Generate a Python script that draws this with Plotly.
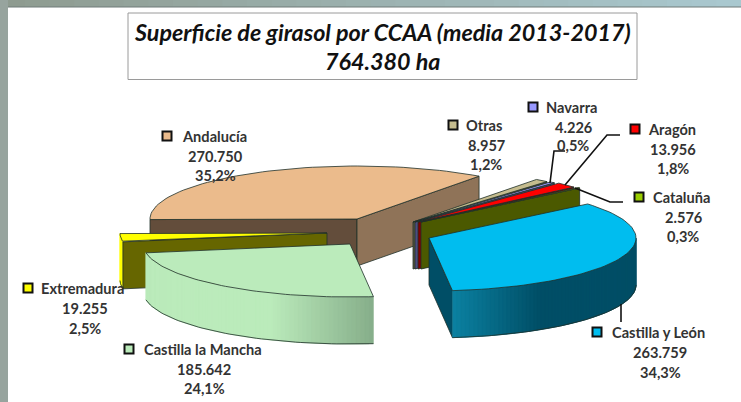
import math
import plotly.graph_objects as go

# ---- data ----
regiones = ["Andalucía", "Otras", "Navarra", "Aragón", "Cataluña",
            "Castilla y León", "Castilla la Mancha", "Extremadura"]
valores = [270750, 8957, 4226, 13956, 2576, 263759, 185642, 19255]
porcentajes = ["35,2%", "1,2%", "0,5%", "1,8%", "0,3%", "34,3%", "24,1%", "2,5%"]
valores_txt = ["270.750", "8.957", "4.226", "13.956", "2.576", "263.759", "185.642", "19.255"]
titulo = ["Superficie de girasol por CCAA (media 2013-2017)", "764.380 ha"]

# ---- styling / layout (pixel space of a 741x402 axis) ----
W, H = 741, 402
RX, RY, DEPTH = 207, 53, 47
T0 = 180.6
centros = {"Andalucía": (357, 219), "Otras": (413, 222), "Navarra": (415, 222),
           "Aragón": (418, 222), "Cataluña": (421, 222), "Castilla y León": (429, 238),
           "Castilla la Mancha": (350, 244), "Extremadura": (327, 233)}
tapa = {"Andalucía": "#EBBB8C", "Otras": "#C5BC8E", "Navarra": "#9999FF", "Aragón": "#FF0000",
        "Cataluña": "#99CC00", "Castilla y León": "#00BDEF", "Castilla la Mancha": "#BBEBBB",
        "Extremadura": "#FFFF00"}
pared = {"Otras": "#5a5640", "Navarra": "#4d4d80", "Aragón": "#800000", "Cataluña": "#4B5900",
         "Extremadura": "#666600", "Castilla y León": "#004E66"}
EDGE = "#20302a"

# name line left x, key centre, y of the 3 lines, centre x of the number lines
etiquetas = {
    "Andalucía": (181, 167, 136, 156, 175, 215),
    "Otras": (465, 453, 125, 145, 164, 486),
    "Navarra": (545, 533, 107, 127, 145, 573),
    "Aragón": (647, 635, 129, 149, 168, 673),
    "Cataluña": (652, 639, 197, 217, 236, 683),
    "Castilla y León": (611, 597, 332, 352, 372, 660),
    "Castilla la Mancha": (143, 129, 349, 369, 388, 204),
    "Extremadura": (40, 28, 288, 308, 328, 85),
}
guias = [
    [(550, 183), (554, 151), (565, 151)],
    [(565, 185), (607, 135), (620, 135)],
    [(575, 188), (610, 202), (623, 202)],
    [(621, 304), (621, 322)],
]

fig = go.Figure()


def poly(pts, fill, line=EDGE, width=0.8):
    fig.add_trace(go.Scatter(
        x=[p[0] for p in pts] + [pts[0][0]], y=[p[1] for p in pts] + [pts[0][1]],
        mode="lines", fill="toself", fillcolor=fill,
        line=dict(color=line if line else fill, width=width),
        hoverinfo="skip", showlegend=False))


def rim(c, t, dy=0):
    a = math.radians(t)
    return (c[0] + RX * math.cos(a), c[1] - RY * math.sin(a) + dy)


def arco(c, a, b, dy=0, n=60):
    return [rim(c, a + (b - a) * i / n, dy) for i in range(n + 1)]


def mezcla(c1, c2, f):
    f = max(0, min(1, f))
    v1 = [int(c1[i:i + 2], 16) for i in (1, 3, 5)]
    v2 = [int(c2[i:i + 2], 16) for i in (1, 3, 5)]
    return "#%02x%02x%02x" % tuple(round(p + (q - p) * f) for p, q in zip(v1, v2))


def pared_radial(c, t, color):
    r = rim(c, t)
    poly([c, r, (r[0], r[1] + DEPTH), (c[0], c[1] + DEPTH)], color)


def pared_curva(c, a, b, color1, color2, x1, x2, n=70):
    """Outer wall from angle a to b; colour runs from color1 to color2 between x1 and x2."""
    for i in range(n):
        ta, tb = a + (b - a) * i / n, a + (b - a) * (i + 1) / n
        # each strip reaches into the next one so that no seam shows
        tc = a + (b - a) * min(n, i + 2) / n
        p = arco(c, ta, tc, n=3)
        q = arco(c, tc, ta, DEPTH, n=3)
        col = mezcla(color1, color2, ((rim(c, ta)[0] + rim(c, tb)[0]) / 2 - x1) / (x2 - x1))
        poly(p + q, col, line=col, width=0.5)
    fig.add_trace(go.Scatter(
        x=[p[0] for p in arco(c, a, b, DEPTH)], y=[p[1] for p in arco(c, a, b, DEPTH)],
        mode="lines", line=dict(color=EDGE, width=0.8), hoverinfo="skip", showlegend=False))


total = sum(valores)
angulos = {}
t = T0
for nombre, v in zip(regiones, valores):
    angulos[nombre] = (t, t - v / total * 360)
    t -= v / total * 360


def tapa_sector(n):
    a, b = angulos[n]
    c = centros[n]
    poly([c] + arco(c, a, b), tapa[n])


# Andalucía
n = "Andalucía"
a, b = angulos[n]
c = centros[n]
pared_radial(c, a, "#634D3B")
pared_radial(c, b, "#8F7358")
tapa_sector(n)

# small slices
for n in ["Otras", "Navarra", "Aragón", "Cataluña"]:
    a, b = angulos[n]
    pared_radial(centros[n], b, pared[n])
    tapa_sector(n)

# Extremadura
n = "Extremadura"
a, b = angulos[n]
c = centros[n]
pared_curva(c, a, b, "#FFFF00", "#FFFF00", 0, 1, n=6)
pared_radial(c, a, pared[n])
tapa_sector(n)

# Castilla la Mancha
n = "Castilla la Mancha"
a, b = angulos[n]
c = centros[n]
pared_curva(c, a, b, "#BBEBBB", "#86AE8A", 270, 373)
tapa_sector(n)

# Castilla y León
n = "Castilla y León"
a, b = angulos[n]
c = centros[n]
pared_radial(c, b, pared[n])
pared_curva(c, b, 0, "#0B80A0", "#004E66", 455, 540)
tapa_sector(n)

# leader lines
for g in guias:
    fig.add_trace(go.Scatter(x=[p[0] for p in g], y=[p[1] for p in g], mode="lines",
                             line=dict(color="#111111", width=1.6),
                             hoverinfo="skip", showlegend=False))

# legend keys
fig.add_trace(go.Scatter(
    x=[etiquetas[n][1] for n in regiones], y=[etiquetas[n][2] for n in regiones],
    mode="markers",
    marker=dict(symbol="square", size=9, color=[tapa[n] for n in regiones],
                line=dict(color="#111111", width=2)),
    hoverinfo="skip", showlegend=False))

# labels
FONT = "Lato, Carlito, sans-serif"
anots = []
for n, vt, pc in zip(regiones, valores_txt, porcentajes):
    xl, xk, y1, y2, y3, xc = etiquetas[n]
    for txt, x, y, anc in [(n, xl, y1, "left"), (vt, xc, y2, "center"), (pc, xc, y3, "center")]:
        anots.append(dict(x=x, y=y, xref="x", yref="y", text="<b>%s</b>" % txt, showarrow=False,
                          xanchor=anc, yanchor="middle", align=anc, borderpad=0,
                          font=dict(family=FONT, size=14.6, color="#333333")))
for txt, y in zip(titulo, (32, 61)):
    anots.append(dict(x=382, y=y, xref="x", yref="y", text="<b><i>%s</i></b>" % txt, showarrow=False,
                      xanchor="center", yanchor="middle",
                      font=dict(family=FONT, size=23.3, color="#111111")))

# frame: gradient band at the top, grey band at the left, title box
formas = []
N = 30
for i in range(N):
    formas.append(dict(type="rect", x0=W * i / N, x1=W * (i + 1) / N + 1, y0=0, y1=7, layer="below",
                       line=dict(width=0), fillcolor=mezcla("#8E9B90", "#A9C8CF", i / (N - 1))))
formas.append(dict(type="rect", x0=0, x1=8, y0=0, y1=H, layer="below", line=dict(width=0), fillcolor="#97A49E"))
formas.append(dict(type="line", x0=8, x1=W, y0=7, y1=7, layer="below", line=dict(color="#6E7A78", width=1)))
formas.append(dict(type="rect", x0=128, x1=637, y0=13, y1=79.5, layer="below",
                   line=dict(color="#9A9A9A", width=1), fillcolor="white"))

fig.update_layout(
    width=W, height=H, margin=dict(l=0, r=0, t=0, b=0),
    paper_bgcolor="white", plot_bgcolor="white", showlegend=False,
    xaxis=dict(range=[0, W], visible=False, fixedrange=True),
    yaxis=dict(range=[H, 0], visible=False, fixedrange=True),
    annotations=anots, shapes=formas,
)
fig.write_html("out.html", config=dict(displayModeBar=False),
               post_script="document.documentElement.style.margin='0';document.body.style.margin='0';document.body.style.overflow='hidden';")
